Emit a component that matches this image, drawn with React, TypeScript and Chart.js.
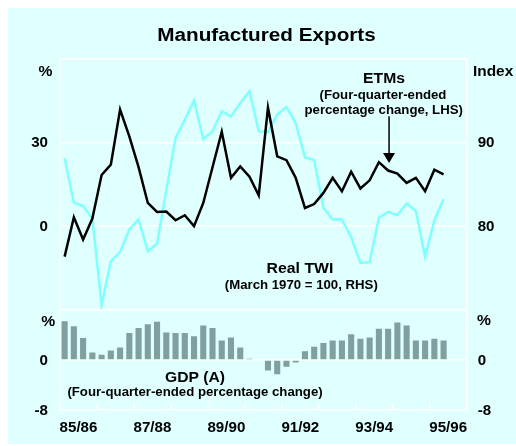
import React, { useEffect, useRef } from 'react';
import { Chart, registerables } from 'chart.js';

Chart.register(...registerables);

// Quarters Sep-1985 .. Dec-1995 (42 observations); x axis spans Jul-1985 .. Jun-1996 (44 quarters)
const QUARTERS: string[] = [
  'Sep-85', 'Dec-85', 'Mar-86', 'Jun-86', 'Sep-86', 'Dec-86', 'Mar-87', 'Jun-87',
  'Sep-87', 'Dec-87', 'Mar-88', 'Jun-88', 'Sep-88', 'Dec-88', 'Mar-89', 'Jun-89',
  'Sep-89', 'Dec-89', 'Mar-90', 'Jun-90', 'Sep-90', 'Dec-90', 'Mar-91', 'Jun-91',
  'Sep-91', 'Dec-91', 'Mar-92', 'Jun-92', 'Sep-92', 'Dec-92', 'Mar-93', 'Jun-93',
  'Sep-93', 'Dec-93', 'Mar-94', 'Jun-94', 'Sep-94', 'Dec-94', 'Mar-95', 'Jun-95',
  'Sep-95', 'Dec-95',
];

// ETMs: four-quarter-ended percentage change (LHS, %)
const ETM: number[] = [
  -10.9, 3.2, -4.8, 2.7, 18.3, 22.0, 41.7, 32.1, 21.1, 8.3, 5.1, 5.2,
  2.1, 3.9, 0.0, 8.3, 21.1, 33.8, 17.3, 21.4, 17.7, 11.0, 42.4, 25.0,
  23.6, 17.3, 6.5, 7.9, 11.9, 17.3, 12.5, 19.5, 13.5, 16.4, 22.9, 19.9,
  18.8, 15.5, 17.3, 12.5, 20.2, 18.5,
];

// Real TWI: March 1970 = 100 (RHS, index)
const TWI: number[] = [
  88.1, 82.8, 82.4, 80.9, 70.6, 75.8, 76.9, 79.6, 80.8, 77.0, 77.9, 84.3,
  90.5, 92.7, 95.0, 90.4, 91.3, 93.7, 93.1, 94.7, 96.1, 91.3, 91.2, 93.3,
  94.2, 92.3, 88.2, 87.9, 82.2, 80.8, 80.8, 78.7, 75.6, 75.7, 81.0, 81.7,
  81.3, 82.7, 81.8, 76.3, 80.7, 83.2,
];

// GDP(A): four-quarter-ended percentage change (%)
const GDP: number[] = [
  6.2, 5.4, 3.5, 1.2, 0.85, 1.5, 2.0, 4.3, 5.1, 5.7, 6.1, 4.4,
  4.3, 4.3, 3.8, 5.5, 5.1, 3.1, 3.6, 2.0, 0.2, 0.1, -1.7, -2.3,
  -1.1, -0.4, 1.4, 2.1, 2.7, 3.1, 3.1, 4.1, 3.4, 3.6, 5.0, 5.0,
  6.0, 5.5, 3.1, 3.1, 3.4, 3.1,
];

const LEFT_TICKS: number[] = [0, 30];
const RIGHT_TICKS: number[] = [80, 90];
const GDP_TICKS: number[] = [0, -8];
const X_TICK_LABELS: string[] = ['85/86', '87/88', '89/90', '91/92', '93/94', '95/96'];
const X_TICK_POS: number[] = [2, 10, 18, 26, 34, 42];
const YEAR_MARKS: number[] = [4, 8, 12, 16, 20, 24, 28, 32, 36, 40];
// arrow annotation (x in quarters, y in LHS %)
const ARROW = { x: 35.6, from: 39.3, to: 22.6 };

const FONT = '"Liberation Sans", Arial, Helvetica, sans-serif';
const BG = '#E0FFFF';
const BAR = '#809F9F';
const CYAN = '#80FFFF';

function drawText(
  ctx: CanvasRenderingContext2D,
  t: string,
  x: number,
  y: number,
  size: number,
  align: CanvasTextAlign,
  sx: number
) {
  ctx.save();
  ctx.translate(x, y);
  ctx.scale(sx, 1);
  ctx.font = `bold ${size}px ${FONT}`;
  ctx.fillStyle = '#000';
  ctx.textAlign = align;
  ctx.textBaseline = 'alphabetic';
  ctx.fillText(t, 0, 0);
  ctx.restore();
}

const textPlugin = {
  id: 'texts',
  afterDraw(chart: any) {
    const ctx: CanvasRenderingContext2D = chart.ctx;
    const { x, yl, yr, yb, ybr } = chart.scales;
    const area = chart.chartArea;

    // year tick marks in the bottom panel
    ctx.save();
    ctx.strokeStyle = '#FFFFFF';
    ctx.lineWidth = 1.5;
    YEAR_MARKS.forEach((v) => {
      const px = x.getPixelForValue(v);
      ctx.beginPath();
      ctx.moveTo(px, area.bottom);
      ctx.lineTo(px, area.bottom - 7);
      ctx.stroke();
    });
    ctx.restore();

    // tick labels
    LEFT_TICKS.forEach((v) => drawText(ctx, String(v), area.left - 12, yl.getPixelForValue(v) + 5, 14, 'right', 1.08));
    RIGHT_TICKS.forEach((v) => drawText(ctx, String(v), area.right + 11, yr.getPixelForValue(v) + 5, 14, 'left', 1.08));
    GDP_TICKS.forEach((v) => {
      drawText(ctx, String(v), area.left - 12, yb.getPixelForValue(v) + 5, 14, 'right', 1.08);
      drawText(ctx, String(v), area.right + 11, ybr.getPixelForValue(v) + 5, 14, 'left', 1.08);
    });
    X_TICK_LABELS.forEach((t, i) => drawText(ctx, t, x.getPixelForValue(X_TICK_POS[i]), area.bottom + 22.3, 14, 'center', 1.08));

    // units
    drawText(ctx, '%', 37.5, 68, 14, 'center', 1.12);
    drawText(ctx, 'Index', 465, 68, 14, 'left', 1.1);
    drawText(ctx, '%', 40.3, 318, 14, 'center', 1.12);
    drawText(ctx, '%', 476, 317, 14, 'center', 1.12);

    // title and annotations
    drawText(ctx, 'Manufactured Exports', 258.5, 32.7, 18, 'center', 1.15);
    drawText(ctx, 'ETMs', 376, 74.7, 14, 'center', 1.12);
    drawText(ctx, '(Four-quarter-ended', 375, 91.3, 12, 'center', 1.1);
    drawText(ctx, 'percentage change, LHS)', 375.7, 106, 12, 'center', 1.1);
    drawText(ctx, 'Real TWI', 292, 265.3, 14, 'center', 1.13);
    drawText(ctx, '(March 1970 = 100, RHS)', 293.3, 280.7, 12, 'center', 1.1);
    drawText(ctx, 'GDP (A)', 187, 373.7, 14, 'center', 1.12);
    drawText(ctx, '(Four-quarter-ended percentage change)', 187, 387.7, 12, 'center', 1.1);

    // arrow
    const ax = x.getPixelForValue(ARROW.x);
    const a0 = yl.getPixelForValue(ARROW.from);
    const a1 = yl.getPixelForValue(ARROW.to);
    ctx.save();
    ctx.strokeStyle = '#000';
    ctx.fillStyle = '#000';
    ctx.lineWidth = 1.5;
    ctx.beginPath();
    ctx.moveTo(ax, a0);
    ctx.lineTo(ax, a1 - 8);
    ctx.stroke();
    ctx.beginPath();
    ctx.moveTo(ax - 6, a1 - 10);
    ctx.lineTo(ax + 6, a1 - 10);
    ctx.lineTo(ax, a1);
    ctx.closePath();
    ctx.fill();
    ctx.restore();
  },
};

export default function App() {
  const ref = useRef<HTMLCanvasElement | null>(null);

  useEffect(() => {
    if (!ref.current) return;
    const white = '#FFFFFF';
    const chart = new Chart(ref.current, {
      type: 'bar',
      data: {
        labels: QUARTERS,
        datasets: [
          {
            type: 'line',
            label: 'ETMs',
            data: ETM.map((v, i) => ({ x: i + 0.5, y: v })),
            xAxisID: 'x',
            yAxisID: 'yl',
            borderColor: '#000000',
            borderWidth: 2.5,
            pointRadius: 0,
            tension: 0,
            order: 0,
          } as any,
          {
            type: 'line',
            label: 'Real TWI',
            data: TWI.map((v, i) => ({ x: i + 0.5, y: v })),
            xAxisID: 'x',
            yAxisID: 'yr',
            borderColor: CYAN,
            borderWidth: 2.5,
            pointRadius: 0,
            tension: 0,
            order: 1,
          } as any,
          {
            type: 'bar',
            label: 'GDP (A)',
            data: GDP.map((v, i) => ({ x: i + 0.5, y: v })),
            xAxisID: 'x',
            yAxisID: 'yb',
            backgroundColor: BAR,
            borderWidth: 0,
            barPercentage: 0.66,
            categoryPercentage: 1,
            order: 2,
          } as any,
        ],
      },
      options: {
        responsive: false,
        animation: false,
        devicePixelRatio: 1,
        layout: { padding: { top: 50.5, left: 0, right: 0, bottom: 0 } },
        plugins: {
          legend: { display: false },
          tooltip: { enabled: false },
          title: { display: false },
        },
        scales: {
          x: {
            type: 'linear',
            position: 'bottom',
            min: 0,
            max: 44,
            offset: false,
            grid: { display: false, offset: false },
            border: { display: false },
            ticks: { display: false },
            afterFit: (s: any) => {
              s.height = 34;
            },
          },
          yl: {
            type: 'linear',
            position: 'left',
            stack: 'p',
            stackWeight: 251.4,
            weight: 2,
            min: -30,
            max: 60,
            ticks: { stepSize: 30, display: false },
            grid: { color: white, lineWidth: 1.5, drawTicks: false },
            border: { color: white, width: 1.5 },
            afterFit: (s: any) => {
              s.width = 52;
            },
          },
          yb: {
            type: 'linear',
            position: 'left',
            stack: 'p',
            stackWeight: 100,
            weight: 1,
            min: -8,
            max: 8,
            ticks: { stepSize: 8, display: false },
            grid: { color: white, lineWidth: 1.5, drawTicks: false },
            border: { color: white, width: 1.5 },
            afterFit: (s: any) => {
              s.width = 52;
            },
          },
          yr: {
            type: 'linear',
            position: 'right',
            stack: 'p',
            stackWeight: 251.4,
            weight: 1,
            min: 70,
            max: 100,
            ticks: { stepSize: 10, display: false },
            grid: { display: false, drawTicks: false },
            border: { color: white, width: 1.5 },
            afterFit: (s: any) => {
              s.width = 49.3;
            },
          },
          ybr: {
            type: 'linear',
            position: 'right',
            stack: 'p',
            stackWeight: 100,
            weight: 2,
            min: -8,
            max: 8,
            ticks: { stepSize: 8, display: false },
            grid: { display: false, drawTicks: false },
            border: { color: white, width: 1.5 },
            afterFit: (s: any) => {
              s.width = 49.3;
            },
          },
        },
      } as any,
      plugins: [textPlugin],
    });
    return () => chart.destroy();
  }, []);

  return (
    <div style={{ position: 'fixed', left: 0, top: 0, width: 516, height: 446, background: '#FFFFFF' }}>
      <div style={{ position: 'absolute', left: 8, top: 8, width: 508, height: 436, background: BG }}>
        <canvas ref={ref} width={508} height={436} style={{ display: 'block' }} />
      </div>
    </div>
  );
}
